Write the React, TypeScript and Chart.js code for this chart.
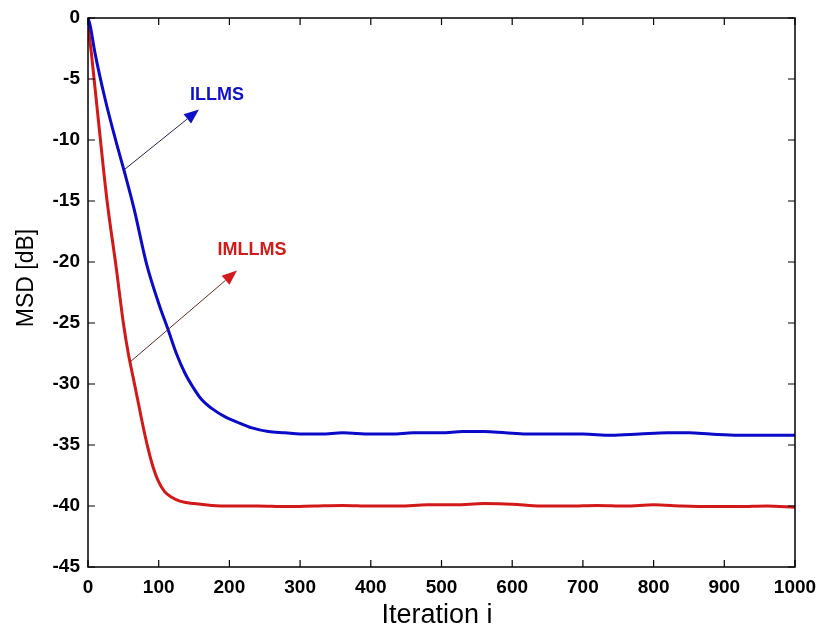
import React, { useEffect, useRef } from "react";
import { Chart, registerables } from "chart.js";

Chart.register(...registerables);

// ---- data ----
const illmsX = [0, 3, 10, 24, 40, 51, 65, 83, 100, 113, 125, 137, 150, 161, 175, 194, 210, 232, 255, 279, 300, 330, 360, 400, 430, 460, 500, 530, 560, 590, 620, 660, 700, 740, 780, 820, 850, 880, 920, 960, 1000];
const illmsY = [0, -0.6, -2.9, -6.6, -10.2, -12.5, -15.6, -20.2, -23.4, -25.5, -27.5, -29.1, -30.4, -31.3, -32.0, -32.7, -33.1, -33.6, -33.9, -34.0, -34.1, -34.1, -34.0, -34.1, -34.1, -34.0, -34.0, -33.9, -33.9, -34.0, -34.1, -34.1, -34.1, -34.2, -34.1, -34.0, -34.0, -34.1, -34.2, -34.2, -34.2];
const imllmsX = [0, 2, 5, 14, 27, 40, 50, 57, 64, 71, 78, 85, 92, 99, 108, 119, 130, 150, 175, 200, 240, 280, 320, 360, 400, 440, 480, 520, 560, 600, 640, 680, 720, 760, 800, 840, 880, 920, 960, 1000];
const imllmsY = [0, -1.5, -3, -8, -15, -20.5, -25, -27.5, -29.5, -31.5, -33.5, -35.3, -36.8, -37.9, -38.8, -39.3, -39.6, -39.8, -39.95, -40.0, -40.0, -40.05, -40.0, -39.95, -40.0, -40.0, -39.9, -39.9, -39.8, -39.85, -40.0, -40.0, -39.95, -40.0, -39.9, -40.0, -40.05, -40.05, -40.0, -40.1];

const xTicks = [0, 100, 200, 300, 400, 500, 600, 700, 800, 900, 1000];
const yTicks = [0, -5, -10, -15, -20, -25, -30, -35, -40, -45];

const xTitle = "Iteration i";
const yTitle = "MSD [dB]";

// annotations: label, label position, arrow start, arrow tip (data coords)
const annLabels = ["ILLMS", "IMLLMS"];
const annLabelPos = [[182.5, -6.3], [232, -19.0]];
const annFrom = [[52, -12.4], [59.4, -28.2]];
const annTo = [[157, -7.5], [210.7, -20.7]];
const annColors = ["#1010c8", "#d21a1a"];
const annLineColors = ["#202050", "#602a20"];

const framePlugin = {
  id: "framePlugin",
  afterDraw(chart: any) {
    const { ctx, chartArea: a, scales } = chart;
    const xs = scales.x;
    const ys = scales.y;
    ctx.save();
    ctx.strokeStyle = "#000";
    ctx.lineWidth = 1.5;
    ctx.strokeRect(a.left, a.top, a.right - a.left, a.bottom - a.top);
    const tl = 7;
    ctx.lineWidth = 1.2;
    ctx.beginPath();
    xTicks.forEach((v) => {
      const px = xs.getPixelForValue(v);
      ctx.moveTo(px, a.bottom);
      ctx.lineTo(px, a.bottom - tl);
      ctx.moveTo(px, a.top);
      ctx.lineTo(px, a.top + tl);
    });
    yTicks.forEach((v) => {
      const py = ys.getPixelForValue(v);
      ctx.moveTo(a.left, py);
      ctx.lineTo(a.left + tl, py);
      ctx.moveTo(a.right, py);
      ctx.lineTo(a.right - tl, py);
    });
    ctx.stroke();

    annLabels.forEach((lab, i) => {
      const x1 = xs.getPixelForValue(annFrom[i][0]);
      const y1 = ys.getPixelForValue(annFrom[i][1]);
      const x2 = xs.getPixelForValue(annTo[i][0]);
      const y2 = ys.getPixelForValue(annTo[i][1]);
      const ang = Math.atan2(y2 - y1, x2 - x1);
      const hl = 15;
      const hw = 6;
      const bx = x2 - hl * Math.cos(ang);
      const by = y2 - hl * Math.sin(ang);
      ctx.strokeStyle = annLineColors[i];
      ctx.lineWidth = 1;
      ctx.beginPath();
      ctx.moveTo(x1, y1);
      ctx.lineTo(bx, by);
      ctx.stroke();
      ctx.fillStyle = annColors[i];
      ctx.beginPath();
      ctx.moveTo(x2, y2);
      ctx.lineTo(bx + hw * Math.sin(ang), by - hw * Math.cos(ang));
      ctx.lineTo(bx - hw * Math.sin(ang), by + hw * Math.cos(ang));
      ctx.closePath();
      ctx.fill();
      ctx.font = "bold 18px 'Liberation Sans', Arial, sans-serif";
      ctx.textAlign = "center";
      ctx.textBaseline = "middle";
      ctx.fillText(lab, xs.getPixelForValue(annLabelPos[i][0]), ys.getPixelForValue(annLabelPos[i][1]));
    });

    ctx.fillStyle = "#000";
    ctx.font = "27px 'Liberation Sans', Arial, sans-serif";
    ctx.textAlign = "center";
    ctx.textBaseline = "alphabetic";
    ctx.fillText(xTitle, 437, 623);
    ctx.save();
    ctx.translate(33, 278);
    ctx.rotate(-Math.PI / 2);
    ctx.font = "23px 'Liberation Sans', Arial, sans-serif";
    ctx.fillText(yTitle, 0, 0);
    ctx.restore();
    ctx.restore();
  },
};

export default function App() {
  const ref = useRef<HTMLCanvasElement | null>(null);
  useEffect(() => {
    if (!ref.current) return;
    const tickFont = { family: "'Liberation Sans', Arial, sans-serif", size: 19, weight: "bold" as const };
    const chart = new Chart(ref.current, {
      type: "line",
      data: {
        datasets: [
          {
            label: "ILLMS",
            data: illmsX.map((x, i) => ({ x, y: illmsY[i] })),
            borderColor: "#0a0ac8",
            borderWidth: 3,
            pointRadius: 0,
            cubicInterpolationMode: "monotone",
            fill: false,
          },
          {
            label: "IMLLMS",
            data: imllmsX.map((x, i) => ({ x, y: imllmsY[i] })),
            borderColor: "#d21818",
            borderWidth: 3,
            pointRadius: 0,
            cubicInterpolationMode: "monotone",
            fill: false,
          },
        ],
      },
      options: {
        animation: false,
        responsive: false,
        layout: { padding: { left: 0, top: 18, right: 24, bottom: 0 } },
        plugins: { legend: { display: false }, tooltip: { enabled: false } },
        scales: {
          x: {
            type: "linear",
            min: 0,
            max: 1000,
            afterBuildTicks: (s: any) => {
              s.ticks = xTicks.map((v) => ({ value: v }));
            },
            afterFit: (s: any) => {
              s.height = 65;
              s.paddingLeft = 0;
              s.paddingRight = 0;
            },
            ticks: { font: tickFont, color: "#000", padding: 9, maxRotation: 0, autoSkip: false, callback: (v: any) => String(v) },
            grid: { display: false, drawTicks: false },
            border: { display: false },
          },
          y: {
            type: "linear",
            min: -45,
            max: 0,
            afterBuildTicks: (s: any) => {
              s.ticks = yTicks.map((v) => ({ value: v }));
            },
            afterFit: (s: any) => {
              s.width = 88;
              s.paddingTop = 0;
              s.paddingBottom = 0;
            },
            ticks: { font: tickFont, color: "#000", padding: 8, autoSkip: false, callback: (v: any) => String(v) },
            grid: { display: false, drawTicks: false },
            border: { display: false },
          },
        },
      },
      plugins: [framePlugin],
    });
    return () => chart.destroy();
  }, []);
  return (
    <div style={{ position: "fixed", left: 0, top: 0, width: 819, height: 632, background: "#fff" }}>
      <canvas ref={ref} width={819} height={632} style={{ width: 819, height: 632, display: "block" }} />
    </div>
  );
}
